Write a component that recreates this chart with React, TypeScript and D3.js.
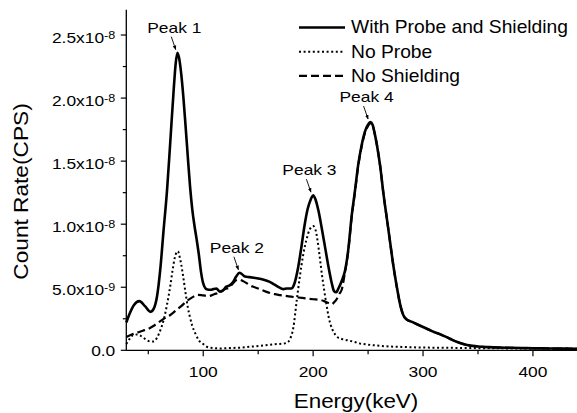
import React from "react";
import * as d3 from "d3";

// ---- Data (values in units of 1e-9 CPS) ----
const solidE = [30, 33, 37, 42, 47, 52, 55, 58, 61, 64, 67, 70, 73, 75, 76.5, 78, 80, 82, 84, 86, 88, 90, 92, 94, 96, 98, 100, 103, 107, 109, 112, 115, 118, 121, 124, 127, 130, 133, 135, 138, 142, 146, 150, 155, 160, 165, 170, 173, 176, 180, 183, 186, 189, 192, 195, 198, 200, 202, 205, 208, 211, 214, 217, 219, 221, 223, 226, 229, 232, 235, 238, 241, 244, 247, 250, 252, 254, 256, 258, 261, 264, 267, 270, 273, 276, 279, 282, 285, 290, 295, 300, 305, 310, 315, 320, 325, 330, 335, 340, 345, 350, 360, 370, 380, 390, 400, 410, 420, 430, 440];
const solidV = [2.2, 2.9, 3.6, 3.9, 3.5, 3.05, 3.3, 4.3, 6.5, 9.6, 12.6, 16.5, 20.5, 22.8, 23.6, 23.2, 21.9, 20.0, 17.7, 15.3, 13.0, 11.2, 9.9, 8.8, 7.6, 6.2, 5.3, 4.85, 4.8, 4.85, 4.9, 4.65, 4.75, 5.05, 5.15, 5.4, 5.85, 6.15, 6.05, 5.85, 5.8, 5.75, 5.7, 5.6, 5.45, 5.2, 4.95, 4.85, 4.9, 4.9, 5.3, 6.4, 8.0, 9.8, 11.2, 12.0, 12.3, 12.0, 11.0, 9.6, 8.1, 6.6, 5.3, 4.7, 4.6, 4.9, 5.5, 6.3, 8.0, 10.6, 12.6, 14.7, 16.2, 17.3, 17.9, 18.1, 17.9, 17.2, 16.3, 14.6, 12.4, 10.5, 8.6, 6.7, 5.1, 3.7, 2.8, 2.45, 2.25, 2.05, 1.85, 1.65, 1.45, 1.3, 1.1, 0.9, 0.7, 0.55, 0.42, 0.35, 0.3, 0.25, 0.22, 0.2, 0.18, 0.16, 0.15, 0.14, 0.13, 0.12];

const dottedE = [30, 33, 36, 40, 44, 48, 52, 55, 58, 61, 64, 67, 70, 72, 74, 76, 77, 78, 80, 82, 84, 86, 88, 90, 93, 96, 100, 103, 107, 115, 125, 135, 145, 155, 165, 172, 176, 179, 182, 185, 188, 191, 194, 197, 200, 202, 204, 206, 208, 210, 212, 214, 216, 219, 222, 226, 231, 236, 242, 250, 260, 270, 280, 290, 300, 320, 340, 360, 380, 400, 420, 440];
const dottedV = [0.5, 0.9, 1.2, 1.25, 1.1, 0.85, 0.7, 0.7, 1.0, 1.6, 2.4, 3.6, 5.1, 6.3, 7.3, 7.8, 7.85, 7.6, 6.8, 5.7, 4.5, 3.4, 2.6, 1.95, 1.3, 0.8, 0.5, 0.3, 0.2, 0.15, 0.18, 0.22, 0.3, 0.38, 0.48, 0.52, 0.6, 0.9, 1.8, 3.9, 5.9, 7.6, 8.8, 9.6, 9.85, 9.6, 8.7, 7.4, 6.0, 4.8, 3.7, 2.7, 2.0, 1.4, 1.05, 0.9, 0.8, 0.7, 0.55, 0.45, 0.36, 0.3, 0.27, 0.24, 0.22, 0.2, 0.18, 0.16, 0.15, 0.14, 0.13, 0.12];

const dashedE = [30, 35, 40, 45, 50, 55, 60, 65, 70, 75, 80, 85, 90, 95, 100, 105, 110, 115, 120, 124, 127, 130, 133, 136, 140, 145, 150, 157, 165, 170, 180, 190, 200, 206, 210, 214, 217, 219, 221, 224, 226, 229, 232, 235, 238, 241, 244, 247, 250, 252, 254, 256, 258, 261, 264, 267, 270, 273, 276, 279, 282, 285, 290, 300, 310, 320, 330, 340, 350, 370, 400, 440];
const dashedV = [1.05, 1.25, 1.4, 1.55, 1.7, 1.95, 2.25, 2.55, 2.8, 3.15, 3.5, 3.9, 4.2, 4.4, 4.35, 4.3, 4.45, 4.6, 4.85, 5.0, 5.3, 5.55, 5.6, 5.5, 5.3, 5.05, 4.9, 4.65, 4.45, 4.38, 4.25, 4.15, 4.05, 4.0, 3.9, 3.75, 3.65, 3.8, 4.0, 4.5, 4.8, 6.2, 7.9, 10.5, 12.5, 14.6, 16.1, 17.2, 17.8, 18.0, 17.85, 17.2, 16.3, 14.6, 12.4, 10.5, 8.6, 6.7, 5.1, 3.7, 2.8, 2.45, 2.25, 1.85, 1.45, 1.1, 0.7, 0.42, 0.3, 0.22, 0.16, 0.12];

const seriesNames = ["With Probe and Shielding", "No Probe", "No Shielding"];

const yMajor = [0, 5, 10, 15, 20, 25];
const yMinor = [2.5, 7.5, 12.5, 17.5, 22.5];
const yTickMain = ["0.0", "5.0x10", "1.0x10", "1.5x10", "2.0x10", "2.5x10"];
const yTickExp = ["", "-9", "-8", "-8", "-8", "-8"];

const xMajor = [100, 200, 300, 400];
const xMinor = [50, 150, 250, 350];
const xTickLabels = ["100", "200", "300", "400"];

const peakNames = ["Peak 1", "Peak 2", "Peak 3", "Peak 4"];
const peakE = [75, 132, 198, 250];
const peakV = [23.6, 6.15, 12.3, 18.1];

const FONT = "'Liberation Sans', Arial, Helvetica, sans-serif";

export default function App() {
  const W = 577;
  const H = 413;
  const x = d3.scaleLinear().domain([30, 440]).range([126.3, 576.9]);
  const y = d3.scaleLinear().domain([0, 27]).range([350.3, 9.8]);

  const mk = (E: number[], V: number[]) =>
    d3
      .line<number>()
      .x((_, i) => x(E[i]))
      .y((_, i) => y(V[i]))
      .curve(d3.curveMonotoneX)(E) as string;

  const solidPath = mk(solidE, solidV);
  const dottedPath = mk(dottedE, dottedV);
  const dashedPath = mk(dashedE, dashedV);

  const axisX0 = x(30);
  const axisY0 = y(0);

  const styles = [
    { dash: "none", w: 2.6 },
    { dash: "2,2.6", w: 2.0 },
    { dash: "8,4", w: 2.2 },
  ];

  return (
    <svg
      width={W}
      height={H}
      style={{ position: "absolute", left: 0, top: 0, background: "#fff" }}
      fontFamily={FONT}
    >
      <defs>
        <marker id="arr" viewBox="0 0 10 10" refX="9" refY="5" markerWidth="5" markerHeight="5" orient="auto">
          <path d="M0,1 L10,5 L0,9 z" fill="#000" />
        </marker>
      </defs>
      <rect width={W} height={H} fill="#fff" />

      {/* curves */}
      <path d={dashedPath} fill="none" stroke="#000" strokeWidth={styles[2].w} strokeDasharray={styles[2].dash} />
      <path d={dottedPath} fill="none" stroke="#000" strokeWidth={styles[1].w} strokeDasharray={styles[1].dash} />
      <path d={solidPath} fill="none" stroke="#000" strokeWidth={styles[0].w} strokeLinejoin="round" />

      {/* axes */}
      <line x1={axisX0} x2={axisX0} y1={y(27)} y2={axisY0 + 0.5} stroke="#000" strokeWidth={1.3} />
      <line x1={axisX0} x2={W} y1={axisY0} y2={axisY0} stroke="#000" strokeWidth={1.3} />

      {yMajor.map((v, i) => (
        <g key={"ym" + i}>
          <line x1={axisX0 - 5.5} x2={axisX0} y1={y(v)} y2={y(v)} stroke="#000" strokeWidth={1.2} />
          <text
            transform={`translate(${axisX0 - 11},${y(v) + (yTickExp[i] ? 7.7 : 5.4)}) scale(1.2,1)`}
            textAnchor="end"
            fontSize={14.5}
            fill="#000"
          >
            <tspan>{yTickMain[i]}</tspan>
            {yTickExp[i] ? (
              <tspan dy={-3.6} fontSize={10.5}>
                {yTickExp[i]}
              </tspan>
            ) : null}
          </text>
        </g>
      ))}
      {yMinor.map((v, i) => (
        <line key={"yn" + i} x1={axisX0 - 3.5} x2={axisX0} y1={y(v)} y2={y(v)} stroke="#000" strokeWidth={1.2} />
      ))}

      {xMajor.map((v, i) => (
        <g key={"xm" + i}>
          <line x1={x(v)} x2={x(v)} y1={axisY0} y2={axisY0 + 6} stroke="#000" strokeWidth={1.2} />
          <text
            transform={`translate(${x(v)},${axisY0 + 26.7}) scale(1.2,1)`}
            textAnchor="middle"
            fontSize={14.5}
            fill="#000"
          >
            {xTickLabels[i]}
          </text>
        </g>
      ))}
      {xMinor.map((v, i) => (
        <line key={"xn" + i} x1={x(v)} x2={x(v)} y1={axisY0} y2={axisY0 + 4} stroke="#000" strokeWidth={1.2} />
      ))}

      {/* axis titles */}
      <text transform={`translate(356,408) scale(1.15,1)`} textAnchor="middle" fontSize={19.5} fill="#000">
        Energy(keV)
      </text>
      <text transform={`translate(27.5,191.5) rotate(-90) scale(1.08,1)`} textAnchor="middle" fontSize={21} fill="#000">
        Count Rate(CPS)
      </text>

      {/* peak annotations */}
      {peakNames.map((n, i) => {
        const tx = x(peakE[i]);
        const ty = y(peakV[i]) - 3;
        return (
          <g key={"pk" + i}>
            <line x1={tx - 4.5} y1={ty - 13} x2={tx} y2={ty} stroke="#000" strokeWidth={0.9} markerEnd="url(#arr)" />
            <text transform={`translate(${tx - 1.5},${ty - 16.7}) scale(1.16,1)`} textAnchor="middle" fontSize={15} fill="#000">
              {n}
            </text>
          </g>
        );
      })}

      {/* legend */}
      {seriesNames.map((n, i) => {
        const base = 33.3 + i * 24.2;
        return (
          <g key={"lg" + i}>
            <line
              x1={299}
              x2={345}
              y1={base - 5.8}
              y2={base - 5.8}
              stroke="#000"
              strokeWidth={styles[i].w}
              strokeDasharray={styles[i].dash}
            />
            <text transform={`translate(351,${base}) scale(1.04,1)`} fontSize={18.5} fill="#000">
              {n}
            </text>
          </g>
        );
      })}
    </svg>
  );
}
